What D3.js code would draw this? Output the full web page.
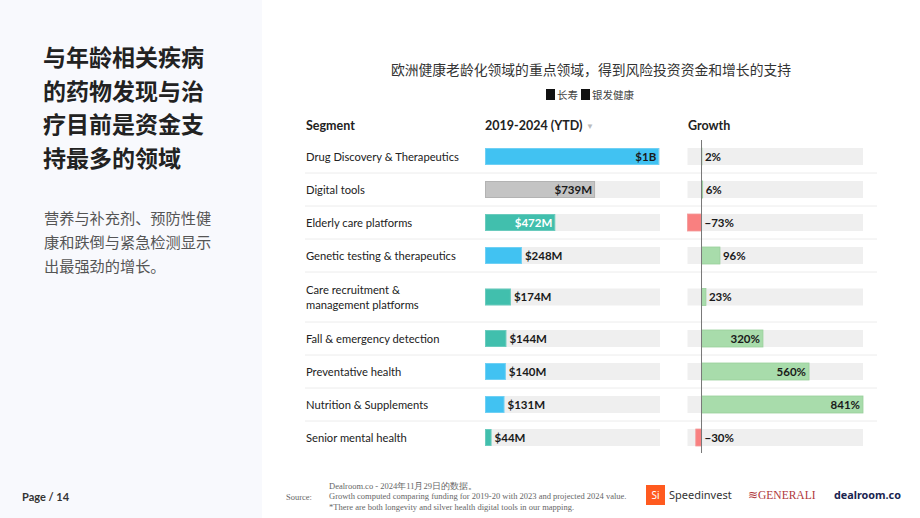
<!DOCTYPE html>
<html>
<head>
<meta charset="utf-8">
<script src="https://cdn.jsdelivr.net/npm/d3@7"></script>
<style>
  body { margin: 0; background: #fff; }
  svg { display: block; }
</style>
</head>
<body>
<div id="viz-container"></div>
<script>
// chart data
const segments = [
  "Drug Discovery & Therapeutics",
  "Digital tools",
  "Elderly care platforms",
  "Genetic testing & therapeutics",
  "Care recruitment &\nmanagement platforms",
  "Fall & emergency detection",
  "Preventative health",
  "Nutrition & Supplements",
  "Senior mental health"
];
const funding = [1170, 739, 472, 248, 174, 144, 140, 131, 44]; // $M, 2019-2024 (YTD)
const fundingLabels = ["$1B", "$739M", "$472M", "$248M", "$174M", "$144M", "$140M", "$131M", "$44M"];
const growth = [2, 6, -73, 96, 23, 320, 560, 841, -30]; // %
const kinds = ["longevity", "both", "silver", "longevity", "silver", "silver", "longevity", "longevity", "silver"];
const legendItems = ["长寿", "银发健康"];

const titleLines = ["与年龄相关疾病", "的药物发现与治", "疗目前是资金支", "持最多的领域"];
const subLines = ["营养与补充剂、预防性健", "康和跌倒与紧急检测显示", "出最强劲的增长。"];
const noteLines = [
  "Dealroom.co - 2024年11月29日的数据。",
  "Growth computed comparing funding for 2019-20 with 2023 and projected 2024 value.",
  "*There are both longevity and silver health digital tools in our mapping."
];

let w = 920;
let h = 518;
let sans = "Lato, 'Noto Sans', sans-serif";
let cjk = "'Noto Sans CJK SC', 'Noto Sans', sans-serif";
let serif = "'Liberation Serif', 'DejaVu Serif', serif";

let kindColor = {longevity: "#41c2f2", silver: "#41bfad", both: "#c4c4c4"};
let kindStroke = {longevity: "#6fd0f4", silver: "#6acbbd", both: "#b3b3b3"};

let viz = d3.select("#viz-container")
  .append("svg")
  .attr("width", w)
  .attr("height", h);

viz.append("rect").attr("width", w).attr("height", h).attr("fill", "#fff");

// left panel
viz.append("rect")
  .attr("x", 0).attr("y", 0)
  .attr("width", 262).attr("height", h)
  .attr("fill", "#f8f9fd");

viz.append("g").selectAll("text").data(titleLines).enter()
  .append("text")
  .attr("x", 43)
  .attr("y", (d, i) => 66 + i * 33.5)
  .attr("font-family", cjk)
  .attr("font-weight", 700)
  .attr("font-size", 23)
  .attr("fill", "#222")
  .text(d => d);

viz.append("g").selectAll("text").data(subLines).enter()
  .append("text")
  .attr("x", 44)
  .attr("y", (d, i) => 224 + i * 24)
  .attr("font-family", cjk)
  .attr("font-size", 15.2)
  .attr("fill", "#555")
  .text(d => d);

viz.append("text")
  .attr("x", 22).attr("y", 501)
  .attr("font-family", sans)
  .attr("font-weight", 700)
  .attr("font-size", 11)
  .attr("fill", "#333")
  .text("Page / 14");

// chart title and legend
viz.append("text")
  .attr("x", 591).attr("y", 75)
  .attr("text-anchor", "middle")
  .attr("font-family", cjk)
  .attr("font-size", 13.8)
  .attr("fill", "#333")
  .text("欧洲健康老龄化领域的重点领域，得到风险投资资金和增长的支持");

let legend = viz.append("g").attr("transform", "translate(546,89)");
let lx = 0;
legendItems.forEach(function(t) {
  legend.append("rect").attr("x", lx).attr("y", 0).attr("width", 9).attr("height", 11).attr("fill", "#111");
  let tx = legend.append("text")
    .attr("x", lx + 11).attr("y", 10)
    .attr("font-family", cjk)
    .attr("font-size", 10.5)
    .attr("fill", "#444")
    .text(t);
  lx += 11 + tx.node().getComputedTextLength() + 3;
});

// headers
let headers = [["Segment", 306], ["2019-2024 (YTD)", 485], ["Growth", 688]];
viz.append("g").selectAll("text").data(headers).enter()
  .append("text")
  .attr("x", d => d[1]).attr("y", 130)
  .attr("font-family", sans)
  .attr("font-weight", 700)
  .attr("font-size", 12.5)
  .attr("fill", "#222")
  .text(d => d[0]);
viz.append("text")
  .attr("x", 586).attr("y", 129)
  .attr("font-family", sans)
  .attr("font-size", 8)
  .attr("fill", "#bbb")
  .text("▼");

// row layout: two-line labels get taller rows
let rowTop = 140;
let rows = segments.map(function(s, i) {
  let lines = s.split("\n");
  let rh = lines.length > 1 ? 50 : 33;
  let r = {name: s, lines: lines, top: rowTop, h: rh, mid: rowTop + rh / 2,
           funding: funding[i], label: fundingLabels[i], growth: growth[i], kind: kinds[i]};
  rowTop += rh;
  return r;
});

let xScale = d3.scaleLinear().domain([0, 1175]).range([485, 660]);
let gScale = d3.scaleLinear().domain([-73, 841]).range([687.5, 863]);
let barH = 17;

// separators
viz.append("g").selectAll("line").data(rows.slice(1)).enter()
  .append("line")
  .attr("x1", 305).attr("x2", 877)
  .attr("y1", d => d.top).attr("y2", d => d.top)
  .attr("stroke", "#ececec")
  .attr("stroke-width", 1);

let rowG = viz.append("g").selectAll(".row").data(rows).enter()
  .append("g")
  .attr("class", "row");

// segment labels
rowG.append("text")
  .attr("x", 306)
  .attr("font-family", sans)
  .attr("font-size", 11.2)
  .attr("fill", "#222")
  .each(function(d) {
    let t = d3.select(this);
    let y0 = d.mid + 4 - (d.lines.length - 1) * 7.5;
    d.lines.forEach(function(l, j) {
      t.append("tspan").attr("x", 306).attr("y", y0 + j * 15).text(l);
    });
  });

// funding bars
rowG.append("rect")
  .attr("x", xScale(0)).attr("y", d => d.mid - barH / 2)
  .attr("width", xScale.range()[1] - xScale(0)).attr("height", barH)
  .attr("fill", "#efefef");
rowG.append("rect")
  .attr("x", xScale(0) + 0.5).attr("y", d => d.mid - barH / 2 + 0.5)
  .attr("width", d => xScale(d.funding) - xScale(0) - 1).attr("height", barH - 1)
  .attr("fill", d => kindColor[d.kind])
  .attr("stroke", d => kindStroke[d.kind])
  .attr("stroke-width", 1);
rowG.append("text")
  .attr("font-family", sans)
  .attr("font-weight", 700)
  .attr("font-size", 11.5)
  .attr("y", d => d.mid + 4)
  .each(function(d) {
    let inside = xScale(d.funding) - xScale(0) > 60;
    d3.select(this)
      .attr("x", inside ? xScale(d.funding) - 3 : xScale(d.funding) + 3)
      .attr("text-anchor", inside ? "end" : "start")
      .attr("fill", inside && d.kind == "silver" ? "#fff" : "#1a1a1a");
  })
  .text(d => d.label);

// growth bars
rowG.append("rect")
  .attr("x", gScale.range()[0]).attr("y", d => d.mid - barH / 2)
  .attr("width", gScale.range()[1] - gScale.range()[0]).attr("height", barH)
  .attr("fill", "#efefef");
rowG.append("rect")
  .attr("x", d => gScale(Math.min(0, d.growth)))
  .attr("y", d => d.mid - barH / 2)
  .attr("width", d => Math.abs(gScale(d.growth) - gScale(0)))
  .attr("height", barH)
  .attr("fill", d => d.growth < 0 ? "#f98080" : "#a8dcab")
  .attr("stroke", d => d.growth < 0 ? "#f39a9a" : "#98cf9b")
  .attr("stroke-width", 0.8);
rowG.append("text")
  .attr("font-family", sans)
  .attr("font-weight", 700)
  .attr("font-size", 11.5)
  .attr("fill", "#1a1a1a")
  .attr("y", d => d.mid + 4)
  .each(function(d) {
    let wd = gScale(d.growth) - gScale(0);
    let inside = wd > 50;
    let x = d.growth < 0 ? gScale(0) + 3 : (inside ? gScale(d.growth) - 3 : gScale(d.growth) + 3);
    d3.select(this)
      .attr("x", x)
      .attr("text-anchor", inside ? "end" : "start");
  })
  .text(d => (d.growth < 0 ? "\u2212" + Math.abs(d.growth) : d.growth) + "%");

// zero line
viz.append("line")
  .attr("x1", gScale(0)).attr("x2", gScale(0))
  .attr("y1", 140).attr("y2", 453)
  .attr("stroke", "#777")
  .attr("stroke-width", 1);

// footer
viz.append("text")
  .attr("x", 286).attr("y", 500)
  .attr("font-family", serif)
  .attr("font-size", 8.5)
  .attr("fill", "#666")
  .text("Source:");
viz.append("g").selectAll("text").data(noteLines).enter()
  .append("text")
  .attr("x", 329)
  .attr("y", (d, i) => 489 + i * 10.3)
  .attr("font-family", serif)
  .attr("font-size", 8.5)
  .attr("fill", "#666")
  .text(d => d);

// logos
viz.append("rect").attr("x", 646).attr("y", 485).attr("width", 19).attr("height", 20).attr("fill", "#ff5a1f");
viz.append("text").attr("x", 655.5).attr("y", 499).attr("text-anchor", "middle")
  .attr("font-family", "'Noto Sans', sans-serif").attr("font-size", 10).attr("fill", "#fff").text("Si");
viz.append("text").attr("x", 669).attr("y", 499)
  .attr("font-family", "'Noto Sans', sans-serif").attr("font-size", 11).attr("fill", "#333").text("Speedinvest");
viz.append("text").attr("x", 748).attr("y", 499)
  .attr("font-family", serif).attr("font-size", 11.5).attr("fill", "#b0363a").text("≋GENERALI");
viz.append("text").attr("x", 834).attr("y", 499)
  .attr("font-family", "'Noto Sans', sans-serif").attr("font-weight", 700)
  .attr("font-size", 10.8).attr("fill", "#1a2550").text("dealroom.co");
</script>
</body>
</html>
